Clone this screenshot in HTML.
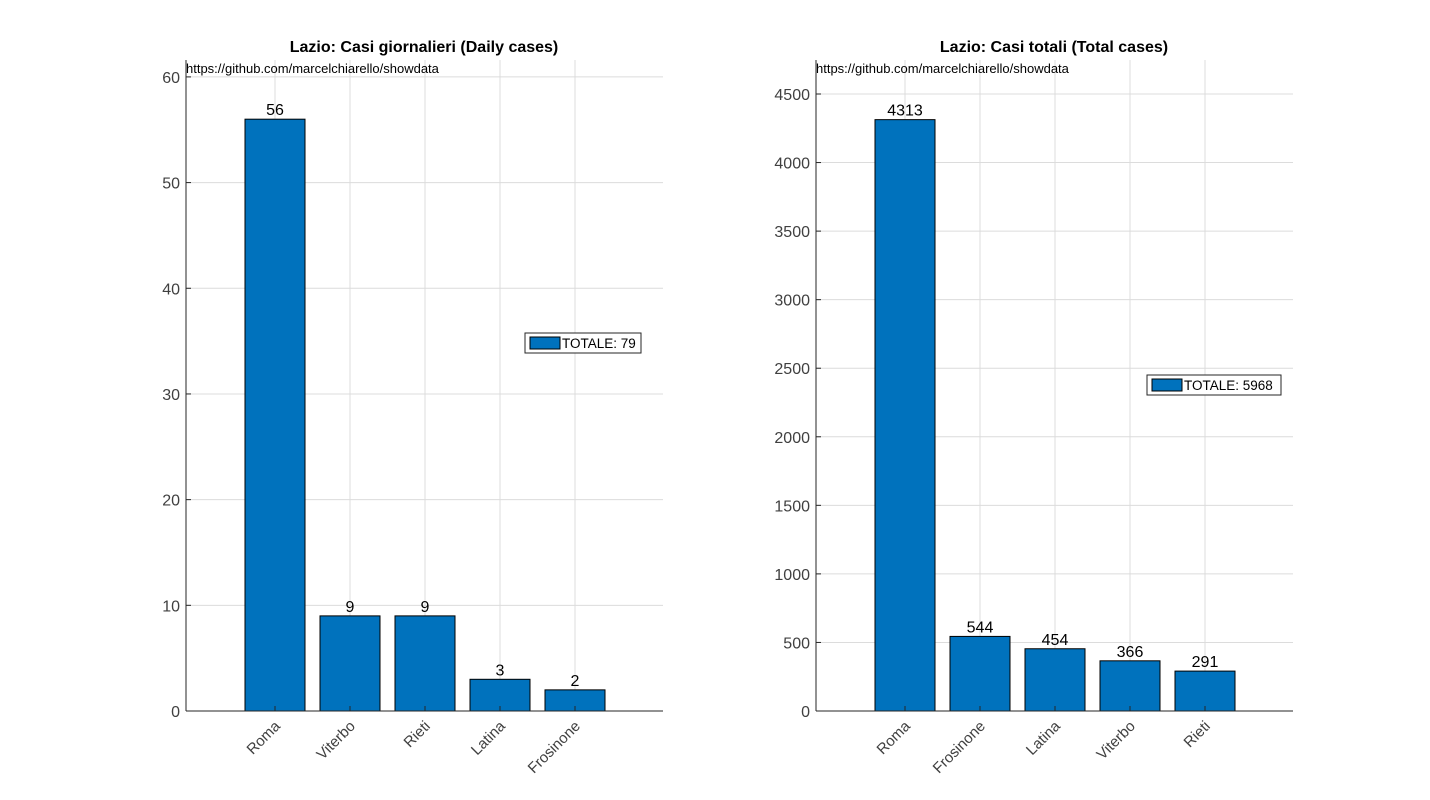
<!DOCTYPE html>
<html><head><meta charset="utf-8"><style>
body{margin:0;background:#fff;}
svg{display:block;font-family:"Liberation Sans",Arial,sans-serif;}
</style></head><body>
<svg id="fig" width="1430" height="800"></svg>
<script>
const leftCategories=["Roma","Viterbo","Rieti","Latina","Frosinone"];
const leftValues=[56,9,9,3,2];
const leftTicks=[0,10,20,30,40,50,60];
const rightCategories=["Roma","Frosinone","Latina","Viterbo","Rieti"];
const rightValues=[4313,544,454,366,291];
const rightTicks=[0,500,1000,1500,2000,2500,3000,3500,4000,4500];
const leftLegend="TOTALE: 79";
const rightLegend="TOTALE: 5968";
const NS="http://www.w3.org/2000/svg";
const svg=document.getElementById('fig');
function mk(tag,attrs,parent,text){const e=document.createElementNS(NS,tag);for(const k in attrs)e.setAttribute(k,attrs[k]);if(text!==undefined)e.textContent=text;(parent||svg).appendChild(e);return e;}
function chart(cfg){
  const g=mk('g',{});
  
  
  const L=cfg.x0,R=cfg.x0+477,T=60,B=711;
  const y=v=>B-(v/cfg.ymax)*(B-T);
  const x=i=>L+89+75*i;
  // grid
  cfg.ticks.forEach(t=>{const l=mk('line',{x1:L,x2:R,y1:y(t),y2:y(t),stroke:'#dcdcdc','stroke-width':1},g);
    });
  cfg.cats.forEach((c,i)=>{const l=mk('line',{x1:x(i),x2:x(i),y1:T,y2:B,stroke:'#dcdcdc','stroke-width':1},g);
    });
  // bars
  cfg.vals.forEach((v,i)=>{
    const r=mk('rect',{x:x(i)-30,y:y(v),width:60,height:B-y(v),fill:'#0072bd',stroke:'#000','stroke-width':1},g);
    
    const t=mk('text',{x:x(i),y:y(v)-4,'text-anchor':'middle','font-size':16,fill:'#000'},g,String(v));
    
    const tk=mk('line',{x1:x(i),x2:x(i),y1:B,y2:B-5,stroke:'#262626'},g);
    
    const xl=mk('text',{x:0,y:0,'text-anchor':'end','font-size':15,fill:'#404040',transform:`translate(${x(i)+6},${B+16}) rotate(-45)`},g,cfg.cats[i]);
    
  });
  // axes
  const ya=mk('line',{x1:L,x2:L,y1:T,y2:B,stroke:'#262626'},g);
  
  const xa=mk('line',{x1:L,x2:R,y1:B,y2:B,stroke:'#262626'},g);
  
  cfg.ticks.forEach(t=>{
    const tk=mk('line',{x1:L,x2:L+5,y1:y(t),y2:y(t),stroke:'#262626'},g);
    
    const tl=mk('text',{x:L-6,y:y(t)+6,'text-anchor':'end','font-size':16,fill:'#404040'},g,String(t));
    
  });
  const ti=mk('text',{x:L+238,y:52,'text-anchor':'middle','font-size':16,'font-weight':'bold',fill:'#000'},g,cfg.title);
  
  const u=mk('text',{x:L,y:73,'font-size':13,fill:'#000'},g,'https://github.com/marcelchiarello/showdata');
  
  // legend
  const lg=mk('g',{},g);
  
  mk('rect',{x:cfg.lx,y:cfg.ly,width:cfg.lw,height:20,fill:'#fff',stroke:'#262626'},lg);
  mk('rect',{x:cfg.lx+5,y:cfg.ly+4,width:30,height:12,fill:'#0072bd',stroke:'#000'},lg);
  const lt=mk('text',{x:cfg.lx+37,y:cfg.ly+15,'font-size':13.5,fill:'#000'},lg,cfg.legend);
  
}
chart({name:'daily-cases-chart',x0:186,ymax:61.6,ticks:leftTicks,cats:leftCategories,vals:leftValues,title:'Lazio: Casi giornalieri (Daily cases)',legend:leftLegend,lx:525,ly:333,lw:116});
chart({name:'total-cases-chart',x0:816,ymax:4748,ticks:rightTicks,cats:rightCategories,vals:rightValues,title:'Lazio: Casi totali (Total cases)',legend:rightLegend,lx:1147,ly:375,lw:134});
</script>
</body></html>
